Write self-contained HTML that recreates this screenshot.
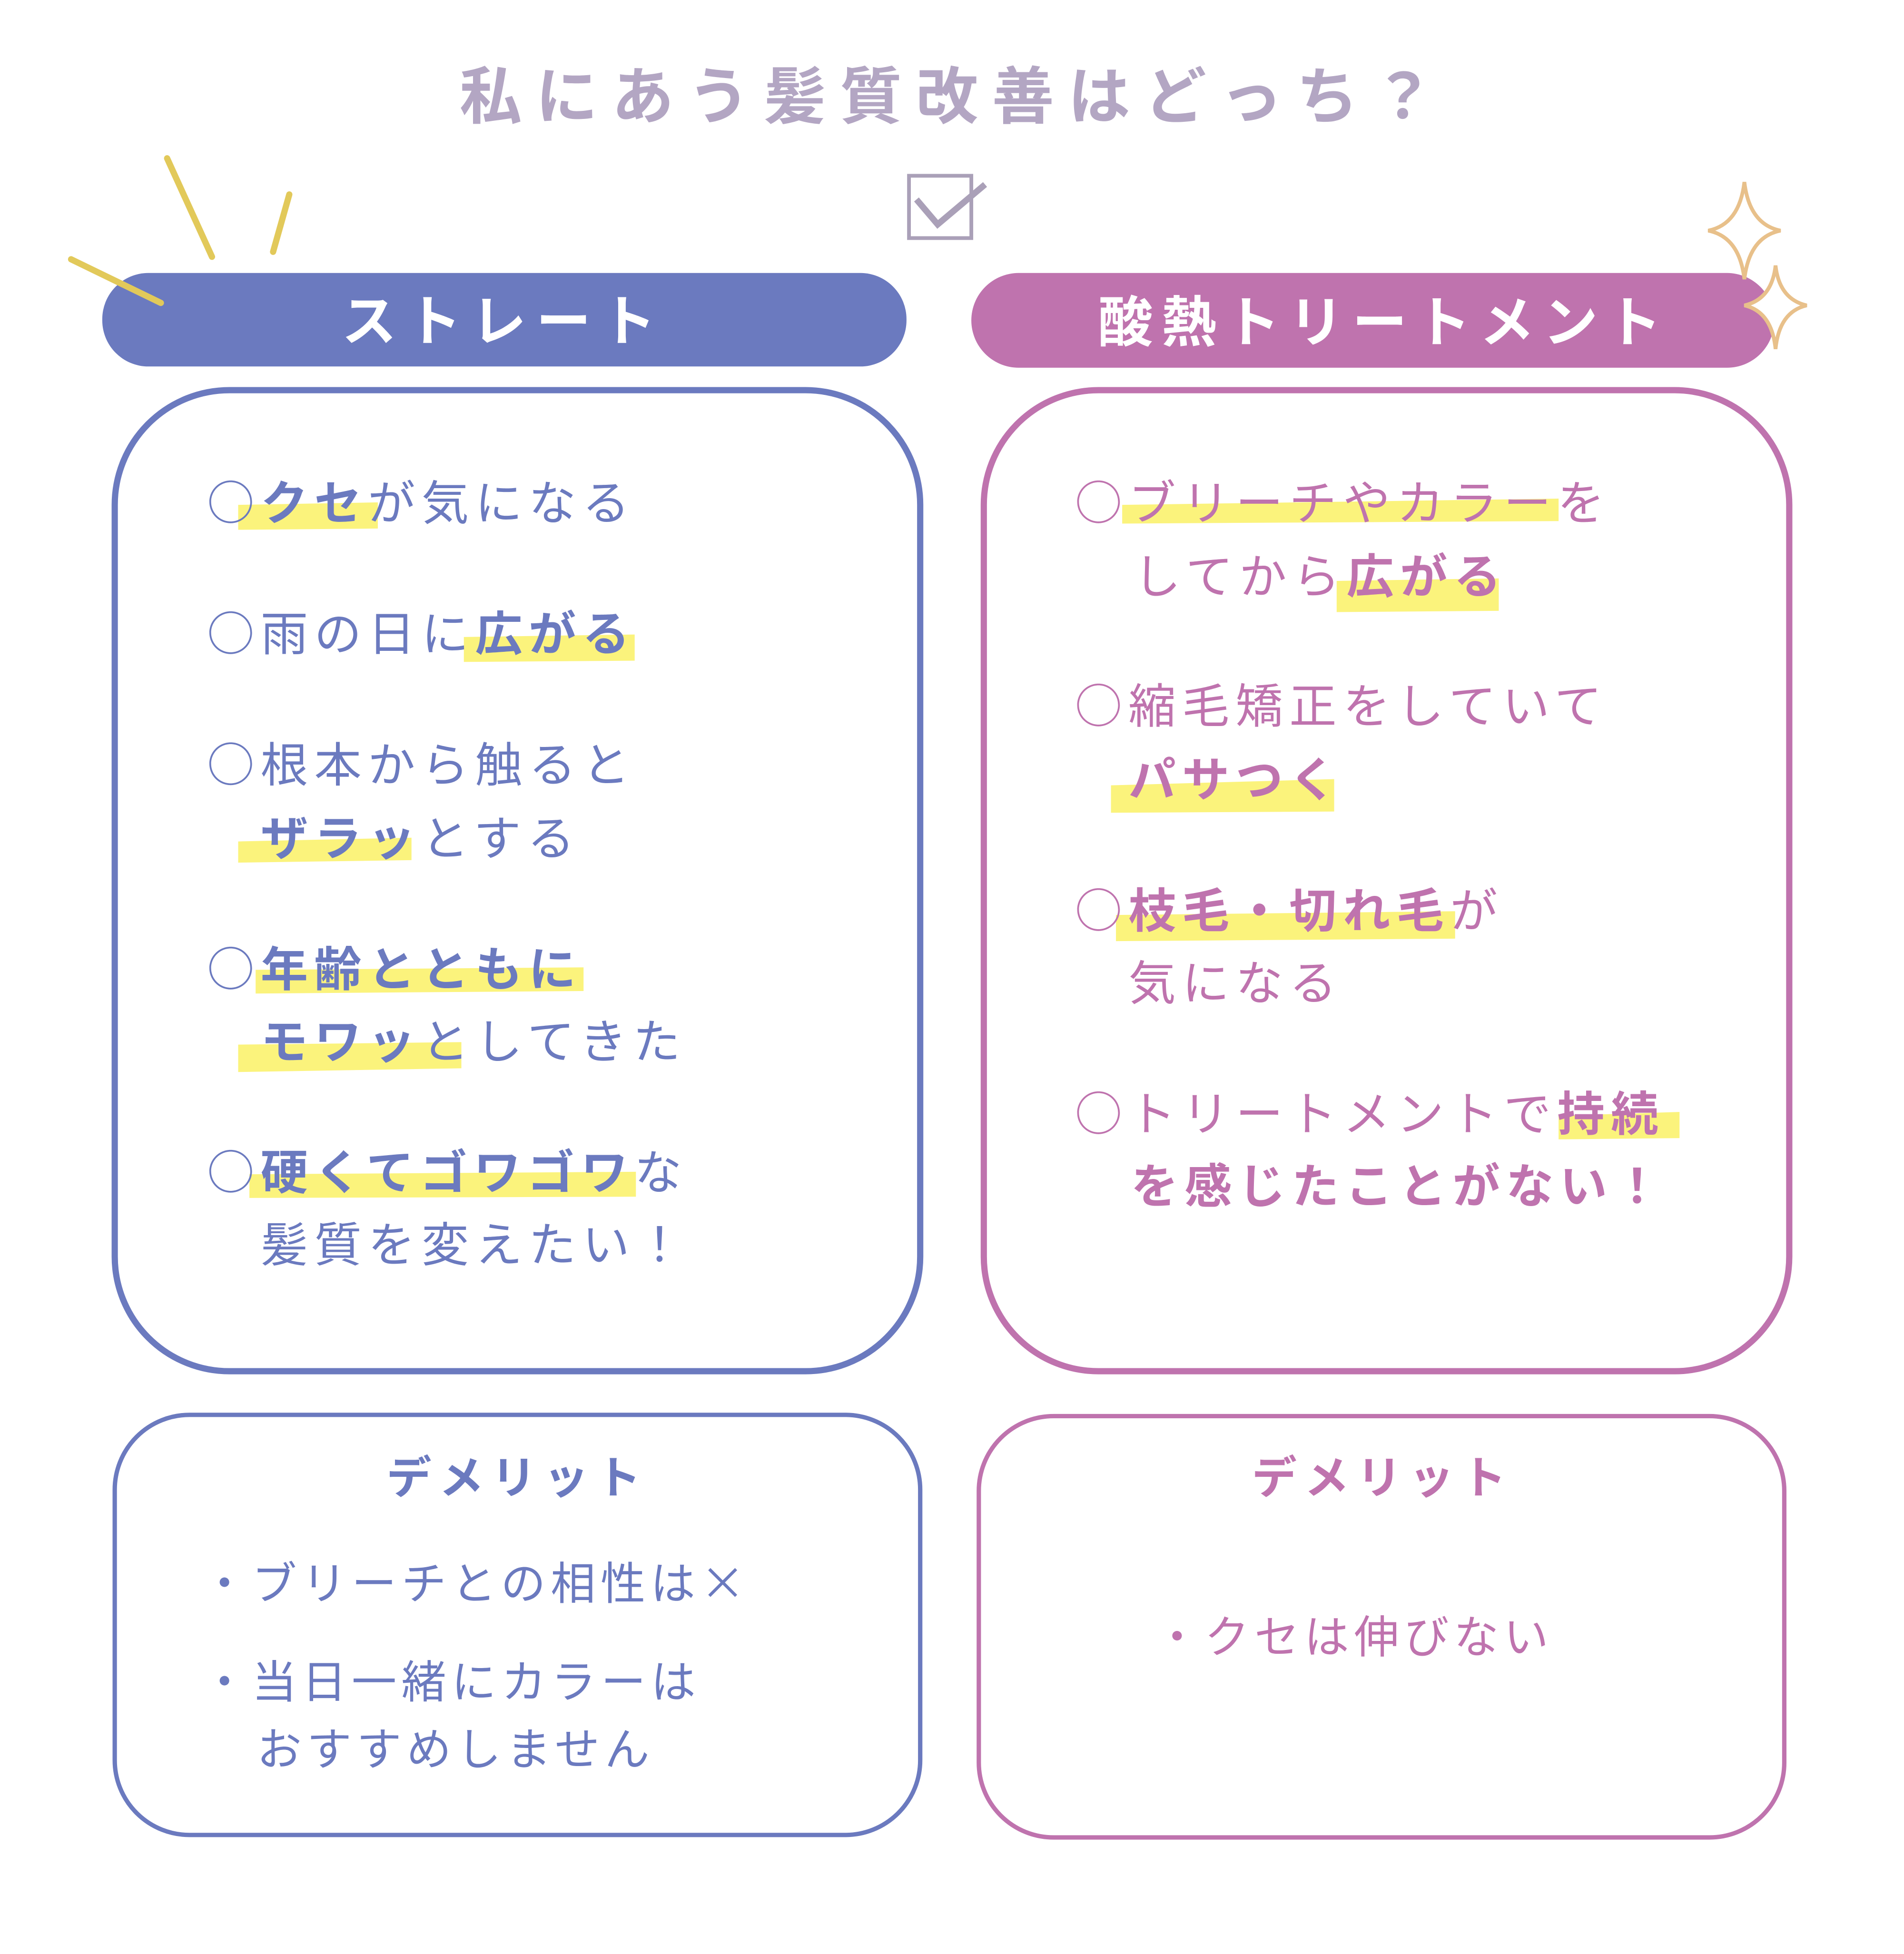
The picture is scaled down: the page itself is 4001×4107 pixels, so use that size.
<!DOCTYPE html>
<html><head><meta charset="utf-8"><style>
html,body{margin:0;padding:0;background:#fff;}
svg{display:block;}
text{font-family:"Liberation Sans","Noto Sans CJK JP",sans-serif;}
.c{font-family:"Noto Sans CJK JP",sans-serif;font-weight:normal;}
</style></head><body>
<svg xmlns="http://www.w3.org/2000/svg" width="4001" height="4107" viewBox="0 0 1527 1567.5">
<rect width="1527" height="1568" fill="#fff"/>
<text x="765" y="95" text-anchor="middle" font-size="50" font-weight="bold" letter-spacing="11" fill="#b3a6c3">私にあう髪質改善はどっち？</text>
<rect x="729" y="141" width="50" height="50" fill="none" stroke="#aaa0b8" stroke-width="3"/>
<path d="M735 160 L752 180 L790 148" fill="none" stroke="#aaa0b8" stroke-width="5"/>
<rect x="82" y="219" width="645" height="75" rx="37" fill="#6b7abf"/>
<text x="404" y="273" text-anchor="middle" font-size="44" font-weight="bold" letter-spacing="8" fill="#fff">ストレート</text>
<g stroke="#e2c95a" stroke-width="5" stroke-linecap="round">
<line x1="134" y1="127" x2="170" y2="206"/>
<line x1="232" y1="156" x2="219" y2="202"/>
<line x1="57" y1="208" x2="129" y2="243"/>
</g>
<rect x="779" y="219" width="644" height="76" rx="38" fill="#bf73ae"/>
<text x="1110" y="274" text-anchor="middle" font-size="44" font-weight="bold" letter-spacing="7" fill="#fff">酸熱トリートメント</text>
<g fill="#fff" stroke="#e8c08a" stroke-width="3">
<path d="M1399 146 Q1403 180 1428 185 Q1403 190 1399 224 Q1395 190 1370 185 Q1395 180 1399 146 Z"/>
<path d="M1424 213 Q1427 240 1449 245 Q1427 250 1424 280 Q1421 250 1399 245 Q1421 240 1424 213 Z"/>
</g>
<rect x="92" y="313" width="646" height="787" rx="92" fill="none" stroke="#6b7abf" stroke-width="5"/>
<rect x="789" y="313" width="646" height="787" rx="92" fill="none" stroke="#bf73ae" stroke-width="5"/>
<rect x="92" y="1135" width="646" height="337" rx="60" fill="none" stroke="#6b7abf" stroke-width="3.5"/>
<rect x="785" y="1136" width="646" height="338" rx="60" fill="none" stroke="#bf73ae" stroke-width="3.5"/>
<g fill="#fbf37c">
<polygon points="191,405 303,403 303,424 191,425"/>
<polygon points="372,511 509,509 509,530 372,531"/>
<polygon points="191,675 330,672 330,690 191,692"/>
<polygon points="205,778 468,776 468,795 205,797"/>
<polygon points="191,838 370,836 370,857 191,860"/>
<polygon points="200,942 510,940 510,960 200,961"/>
<polygon points="900,405 1250,400 1250,418 900,420"/>
<polygon points="1072,466 1202,464 1202,490 1072,491"/>
<polygon points="891,630 1070,625 1070,651 891,652"/>
<polygon points="895,734 1167,731 1167,753 895,755"/>
<polygon points="1250,895 1347,892 1347,913 1250,914"/>
</g>
<g font-size="38" letter-spacing="5" fill="#6b7abf">
<text x="166" y="417"><tspan class="c">○</tspan><tspan font-weight="bold">クセ</tspan>が気になる</text>
<text x="166" y="522"><tspan class="c">○</tspan>雨の日に<tspan font-weight="bold">広がる</tspan></text>
<text x="166" y="627"><tspan class="c">○</tspan>根本から触ると</text>
<text x="209" y="686"><tspan font-weight="bold">ザラッ</tspan>とする</text>
<text x="166" y="791"><tspan class="c">○</tspan><tspan font-weight="bold">年齢とともに</tspan></text>
<text x="209" y="849"><tspan font-weight="bold">モワッ</tspan>としてきた</text>
<text x="166" y="954"><tspan class="c">○</tspan><tspan font-weight="bold">硬くてゴワゴワ</tspan>な</text>
<text x="209" y="1012">髪質を変えたい！</text>
</g>
<g font-size="38" letter-spacing="5" fill="#bf73ae">
<text x="862" y="417"><tspan class="c">○</tspan>ブリーチやカラーを</text>
<text x="909" y="476">してから<tspan font-weight="bold">広がる</tspan></text>
<text x="862" y="580"><tspan class="c">○</tspan>縮毛矯正をしていて</text>
<text x="905" y="639" font-weight="bold">パサつく</text>
<text x="862" y="744"><tspan class="c">○</tspan><tspan font-weight="bold">枝毛・切れ毛</tspan>が</text>
<text x="905" y="802">気になる</text>
<text x="862" y="907"><tspan class="c">○</tspan>トリートメントで<tspan font-weight="bold">持続</tspan></text>
<text x="907" y="965" font-weight="bold">を感じたことがない！</text>
</g>
<g font-size="36" letter-spacing="6">
<text x="415" y="1198" text-anchor="middle" font-weight="bold" fill="#6b7abf">デメリット</text>
<text x="1109" y="1198" text-anchor="middle" font-weight="bold" fill="#bf73ae">デメリット</text>
</g>
<g font-size="36" letter-spacing="4" fill="#6b7abf">
<text x="162" y="1283">・ブリーチとの相性は<tspan class="c">×</tspan></text>
<text x="162" y="1362">・当日一緒にカラーは</text>
<text x="206" y="1416">おすすめしません</text>
</g>
<text x="926" y="1326" font-size="36" letter-spacing="4" fill="#bf73ae">・クセは伸びない</text>
</svg>
</body></html>
